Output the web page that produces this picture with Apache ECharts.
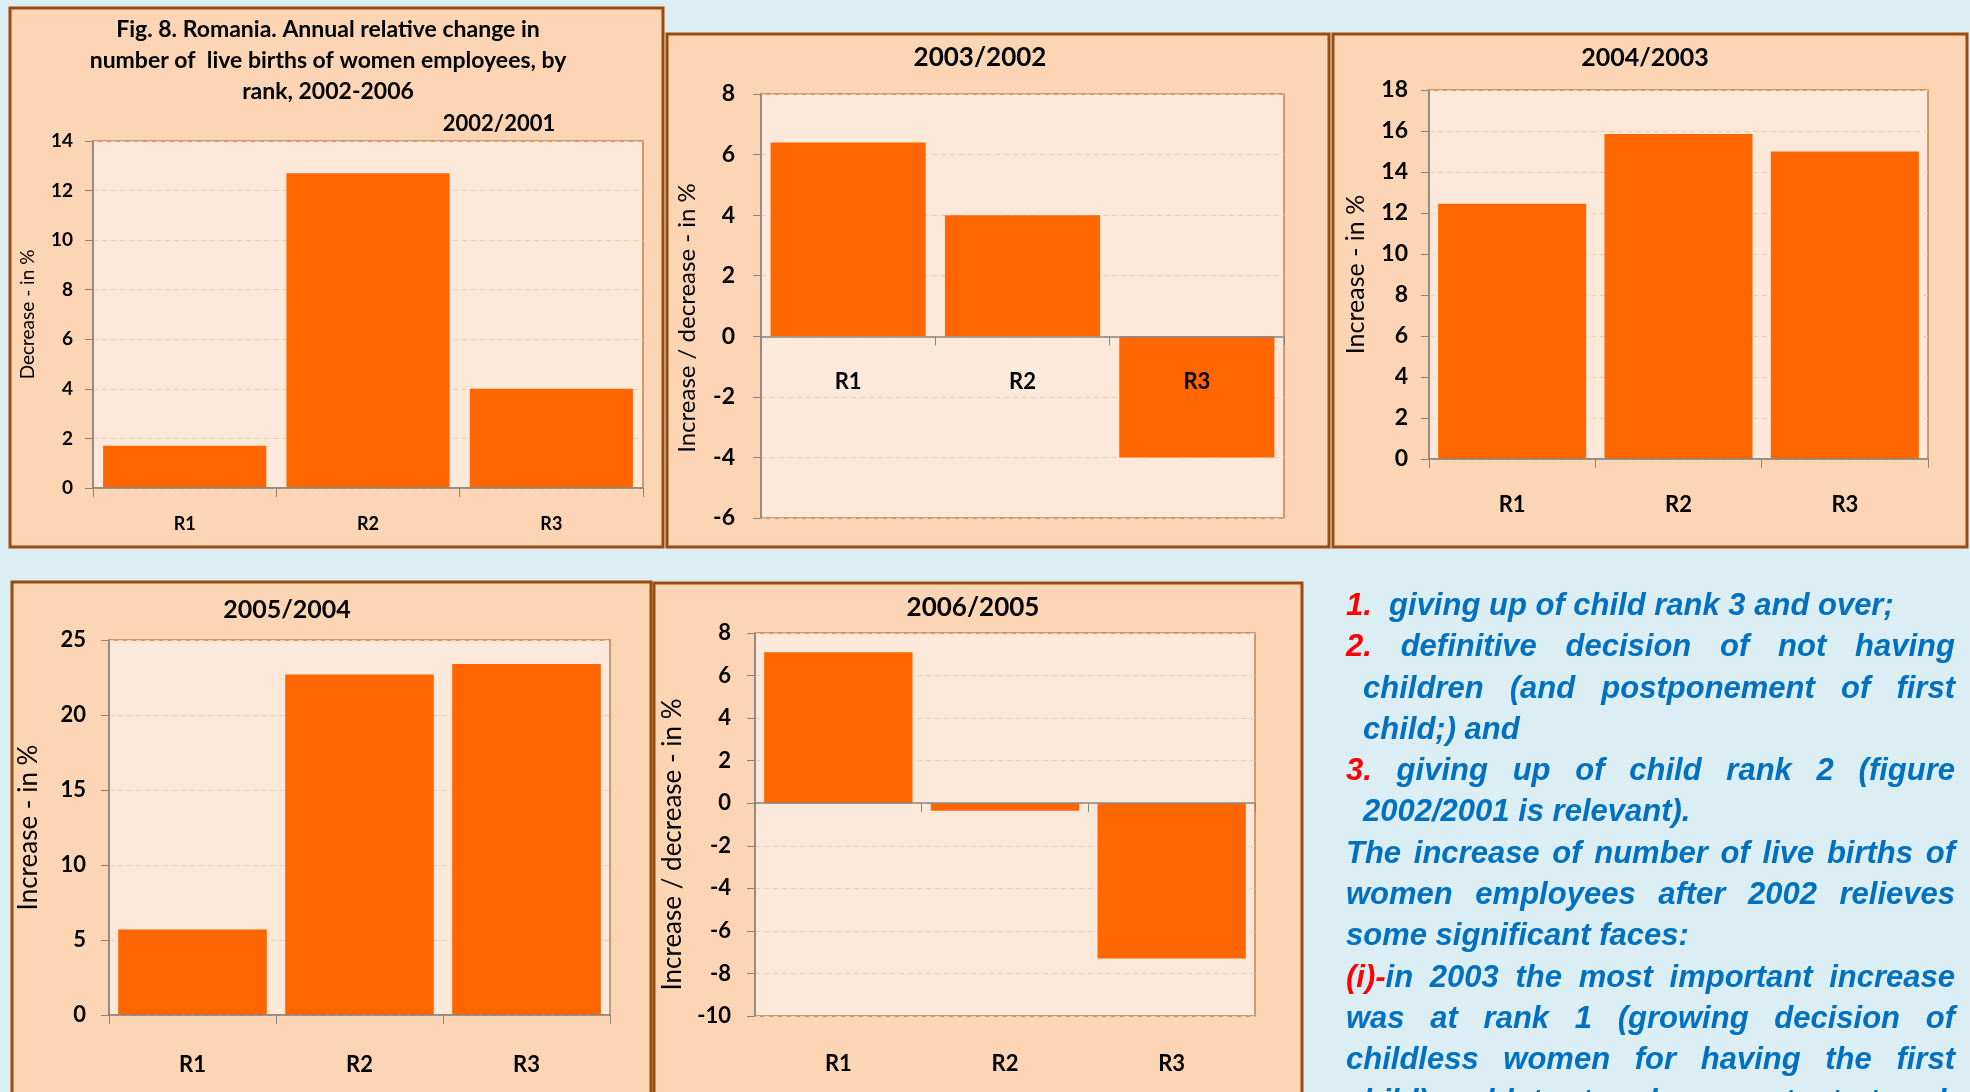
<!DOCTYPE html>
<html><head><meta charset="utf-8">
<script src="https://cdn.jsdelivr.net/npm/echarts@6/dist/echarts.min.js"></script>
<style>
html,body{margin:0;padding:0;background:#DBEEF4;overflow:hidden;width:1970px;height:1092px}
#chart{position:absolute;left:0;top:0;width:1970px;height:1092px}
#notes{position:absolute;left:1346px;top:584px;width:609px;font-family:"Liberation Sans",Arial,sans-serif;font-weight:bold;font-style:italic;font-size:31px;line-height:41.3px;color:#0070C0}
#notes div{white-space:nowrap}
#notes .j{text-align:justify;text-align-last:justify;white-space:normal}
#notes .in{padding-left:17px}
#notes .r{color:#FF0000}
</style></head>
<body>
<div id="chart"></div>
<div id="notes">
<div><span class="r">1.</span>&nbsp; giving up of child rank 3 and over;</div>
<div class="j"><span class="r">2.</span> definitive decision of not having</div>
<div class="j in">children (and postponement of first</div>
<div class="in">child;) and</div>
<div class="j"><span class="r">3.</span> giving up of child rank 2 (figure</div>
<div class="in">2002/2001 is relevant).</div>
<div class="j">The increase of number of live births of</div>
<div class="j">women employees after 2002 relieves</div>
<div>some significant faces:</div>
<div class="j"><span class="r">(i)-</span>in 2003 the most important increase</div>
<div class="j">was at rank 1 (growing decision of</div>
<div class="j">childless women for having the first</div>
<div class="j">child) and later to a lesser extent at rank 2</div>
</div>
<script>
// ---- data ----
const categories = ['R1', 'R2', 'R3'];
const change2002_2001 = [1.7, 12.7, 4.0];
const change2003_2002 = [6.4, 4.0, -4.0];
const change2004_2003 = [12.45, 15.85, 15.0];
const change2005_2004 = [5.7, 22.7, 23.4];
const change2006_2005 = [7.1, -0.35, -7.3];
const panelTitles = ['2002/2001', '2003/2002', '2004/2003', '2005/2004', '2006/2005'];
const axisNames = ['Decrease - in %', 'Increase / decrease - in %', 'Increase - in %', 'Increase - in %', 'Increase / decrease - in %'];
const yRanges = [[0, 14, 2], [-6, 8, 2], [0, 18, 2], [0, 25, 5], [-10, 8, 2]];
const mainTitle = ['Fig. 8. Romania. Annual relative change in', 'number of  live births of women employees, by', 'rank, 2002-2006'];
const seriesData = [change2002_2001, change2003_2002, change2004_2003, change2005_2004, change2006_2005];

// ---- layout / style ----
const FONT = 'Lato';
// labelsAt: 'zero' puts category labels next to the zero line, 'low' at the bottom of the plot
const layout = [
  {grid: {left: 93, top: 141, width: 550, height: 347}, tickFont: 19, catFont: 18, nameFont: 19, nameGap: 56, namePad: 0, yMargin: 20, xMargin: 27, labelsAt: 'zero',
   panel: [10, 8, 653, 539], title: [499, 124, 22]},
  {grid: {left: 761, top: 94, width: 523, height: 424}, tickFont: 23, catFont: 22, nameFont: 24, nameGap: 62, namePad: 24, yMargin: 26, xMargin: 35, labelsAt: 'zero',
   panel: [667, 34, 662, 513], title: [980, 58, 26]},
  {grid: {left: 1429, top: 90, width: 499, height: 369}, tickFont: 23, catFont: 22, nameFont: 25, nameGap: 61, namePad: 0, yMargin: 21, xMargin: 35, labelsAt: 'zero',
   panel: [1333, 34, 634, 513], title: [1645, 58, 25]},
  {grid: {left: 109, top: 640, width: 501, height: 375}, tickFont: 22, catFont: 22, nameFont: 26, nameGap: 67, namePad: 0, yMargin: 23, xMargin: 39, labelsAt: 'zero',
   panel: [12, 582, 639, 530], title: [287, 610, 25]},
  {grid: {left: 755, top: 633, width: 500, height: 383}, tickFont: 22, catFont: 22, nameFont: 26, nameGap: 69, namePad: 40, yMargin: 24, xMargin: 37, labelsAt: 'low',
   panel: [654, 583, 648, 530], title: [973, 608, 26]}
];
const AXIS_GRAY = '#868686';

const grids = [], xAxes = [], yAxes = [], series = [], elements = [];
layout.forEach((L, i) => {
  grids.push(Object.assign({show: true, backgroundColor: '#FDE9D9', borderColor: '#C4804F', borderWidth: 1.5}, L.grid));
  const [ymin, ymax, yint] = yRanges[i];
  const yi = yAxes.length;
  yAxes.push({
    type: 'value', gridIndex: i, min: ymin, max: ymax, interval: yint,
    axisLine: {show: true, lineStyle: {color: AXIS_GRAY, width: 1.5}},
    axisTick: {show: true, length: 8, lineStyle: {color: AXIS_GRAY}},
    axisLabel: {fontFamily: FONT, fontWeight: 'bold', fontSize: L.tickFont, color: '#000', margin: L.yMargin},
    splitLine: {show: true, lineStyle: {color: '#F5CBA8', type: [5, 4], width: 1}},
    name: axisNames[i], nameLocation: 'middle', nameGap: L.nameGap,
    nameTextStyle: {fontFamily: FONT, fontSize: L.nameFont, color: '#000', padding: [0, L.namePad, 0, 0]}
  });
  // offset of the zero line from the bottom of the plot, taken from the axis extent
  const zeroOffset = (L.labelsAt === 'zero' && ymin < 0) ? -L.grid.height * (0 - ymin) / (ymax - ymin) : 0;
  const xi = xAxes.length;
  // label-only axis
  xAxes.push({
    type: 'category', gridIndex: i, data: categories, position: 'bottom', offset: zeroOffset, z: 10,
    axisLine: {show: false, onZero: false}, axisTick: {show: false},
    axisLabel: {fontFamily: FONT, fontWeight: 'bold', fontSize: L.catFont, color: '#000', margin: L.xMargin},
    splitLine: {show: false}
  });
  // zero line with ticks
  xAxes.push({
    type: 'category', gridIndex: i, data: categories, position: 'bottom', z: 9,
    axisLine: {show: true, onZero: true, onZeroAxisIndex: yi, lineStyle: {color: AXIS_GRAY, width: 1.5}},
    axisTick: {show: true, length: 9, lineStyle: {color: AXIS_GRAY}},
    axisLabel: {show: false}, splitLine: {show: false}
  });
  series.push({
    type: 'bar', xAxisIndex: xi, yAxisIndex: yi, data: seriesData[i],
    barCategoryGap: '11%', itemStyle: {color: '#FF6600'}, silent: true, animation: false
  });
  const p = L.panel;
  elements.push({type: 'rect', z: -10, shape: {x: p[0], y: p[1], width: p[2], height: p[3]},
    style: {fill: '#FCD5B4', stroke: '#9C4B0C', lineWidth: 3}});
  elements.push({type: 'text', z: 100, x: L.title[0], y: L.title[1],
    style: {text: panelTitles[i], fontFamily: FONT, fontWeight: 'bold', fontSize: L.title[2], fill: '#000', align: 'center', verticalAlign: 'middle'}});
});
const titleY = [30, 61, 92];
mainTitle.forEach((t, k) => {
  elements.push({type: 'text', z: 100, x: 328, y: titleY[k],
    style: {text: t, fontFamily: FONT, fontWeight: 'bold', fontSize: 23, fill: '#000', align: 'center', verticalAlign: 'middle'}});
});

const chart = echarts.init(document.getElementById('chart'), null, {renderer: 'canvas', width: 1970, height: 1092});
chart.setOption({
  backgroundColor: 'transparent',
  animation: false,
  grid: grids, xAxis: xAxes, yAxis: yAxes, series: series,
  graphic: {elements: elements}
});
</script>
</body></html>
